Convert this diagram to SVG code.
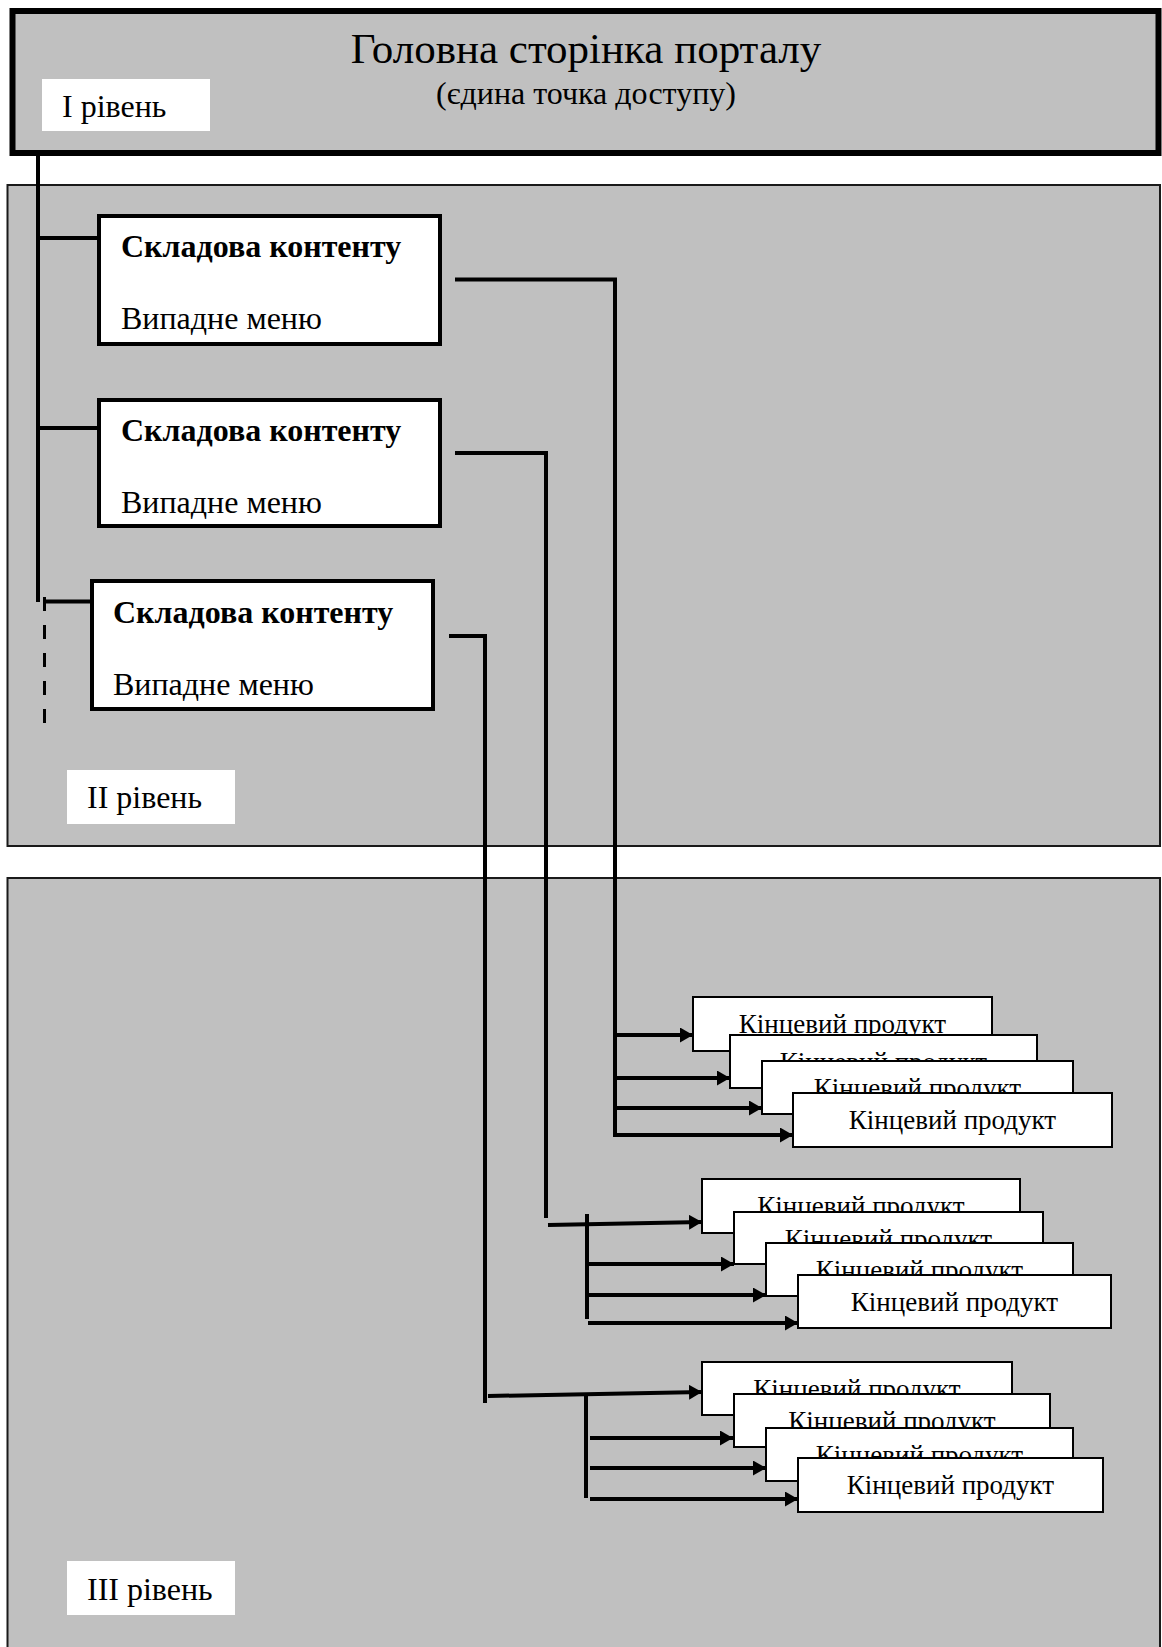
<svg xmlns="http://www.w3.org/2000/svg" width="1162" height="1647" viewBox="0 0 1162 1647">
<defs>
<style>
.t{font-family:"Liberation Serif","Times New Roman",serif;fill:#000}
.panel{fill:#c0c0c0;stroke:#1a1a1a;stroke-width:2}
.lbl{fill:#fff;stroke:none}
.cbox{fill:#fff;stroke:#000;stroke-width:4}
.pbox{fill:#fff;stroke:#000;stroke-width:2}
.ln{fill:none;stroke:#000;stroke-width:4}
.ar{fill:none;stroke:#000;stroke-width:4;marker-end:url(#ah)}
.lvl{font-size:32px}
.bold{font-size:32px;font-weight:bold}
.menu{font-size:32px}
.prod{font-size:27px;text-anchor:middle}
</style>
<marker id="ah" markerUnits="userSpaceOnUse" markerWidth="13" markerHeight="15" refX="13" refY="7.5" orient="auto">
<path d="M0,0 L13,7.5 L0,15 z" fill="#000"/>
</marker>
</defs>
<rect width="1162" height="1647" fill="#fff"/>

<g id="panel-level2"><rect class="panel" x="7.5" y="185" width="1152.5" height="661"/></g>
<g id="panel-level3"><rect class="panel" x="7.5" y="878" width="1152.5" height="790"/></g>

<g id="top">
<rect x="12.5" y="11" width="1146" height="142" fill="#c0c0c0" stroke="#000" stroke-width="6"/>
<text class="t" x="586" y="63" font-size="43" text-anchor="middle">Головна сторінка порталу</text>
<text class="t" x="586" y="104" font-size="32" text-anchor="middle">(єдина точка доступу)</text>
</g>

<g id="label-level1"><rect class="lbl" x="42" y="79" width="168" height="52"/><text class="t lvl" x="62" y="117">I рівень</text></g>
<g id="label-level2"><rect class="lbl" x="67" y="770" width="168" height="54"/><text class="t lvl" x="87" y="808">II рівень</text></g>
<g id="label-level3"><rect class="lbl" x="67" y="1561" width="168" height="54"/><text class="t lvl" x="87" y="1600">III рівень</text></g>

<g id="connectors">
<path class="ln" d="M38,155 V602"/>
<path class="ln" d="M38,238 H97"/>
<path class="ln" d="M38,428 H97"/>
<path class="ln" stroke-width="3" d="M43,601.5 H90"/>
<path fill="none" stroke="#000" stroke-width="3" stroke-dasharray="14 14" d="M44.5,597 V724"/>
<path class="ln" d="M455,279.5 H615 V1135"/>
<path class="ln" d="M455,453 H546 V1218"/>
<path class="ln" d="M449,636 H485 V1403"/>
<path class="ar" d="M615,1035 H693"/>
<path class="ar" d="M615,1078 H730"/>
<path class="ar" d="M615,1108 H762"/>
<path class="ar" d="M613,1135 H793"/>
<path class="ar" d="M548,1225 L702,1222"/>
<path class="ln" d="M587,1214 V1319"/>
<path class="ar" d="M587,1264 H734"/>
<path class="ar" d="M587,1295 H766"/>
<path class="ar" d="M588,1323 H798"/>
<path class="ar" d="M488,1396 L702,1392"/>
<path class="ln" d="M586,1395 V1498"/>
<path class="ar" d="M590,1438 H733"/>
<path class="ar" d="M590,1468 H766"/>
<path class="ar" d="M590,1499 H798"/>
</g>

<g id="content-1"><rect class="cbox" x="99" y="216" width="341" height="128"/><text class="t bold" x="121" y="257">Складова контенту</text><text class="t menu" x="121" y="329">Випадне меню</text></g>
<g id="content-2"><rect class="cbox" x="99" y="400" width="341" height="126"/><text class="t bold" x="121" y="441">Складова контенту</text><text class="t menu" x="121" y="513">Випадне меню</text></g>
<g id="content-3"><rect class="cbox" x="92" y="581" width="341" height="128"/><text class="t bold" x="113" y="623">Складова контенту</text><text class="t menu" x="113" y="695">Випадне меню</text></g>

<g id="product-1-1"><rect class="pbox" x="693" y="997" width="299" height="54"/><text class="t prod" x="842.5" y="1033">Кінцевий продукт</text></g>
<g id="product-1-2"><rect class="pbox" x="730" y="1035" width="307" height="53"/><text class="t prod" x="883.5" y="1071">Кінцевий продукт</text></g>
<g id="product-1-3"><rect class="pbox" x="762" y="1061" width="311" height="53"/><text class="t prod" x="917.5" y="1097">Кінцевий продукт</text></g>
<g id="product-1-4"><rect class="pbox" x="793" y="1093" width="319" height="54"/><text class="t prod" x="952.5" y="1129">Кінцевий продукт</text></g>

<g id="product-2-1"><rect class="pbox" x="702" y="1179" width="318" height="54"/><text class="t prod" x="861" y="1215">Кінцевий продукт</text></g>
<g id="product-2-2"><rect class="pbox" x="734" y="1212" width="309" height="52"/><text class="t prod" x="888.5" y="1248">Кінцевий продукт</text></g>
<g id="product-2-3"><rect class="pbox" x="766" y="1243" width="307" height="53"/><text class="t prod" x="919.5" y="1279">Кінцевий продукт</text></g>
<g id="product-2-4"><rect class="pbox" x="798" y="1275" width="313" height="53"/><text class="t prod" x="954.5" y="1311">Кінцевий продукт</text></g>

<g id="product-3-1"><rect class="pbox" x="702" y="1362" width="310" height="53"/><text class="t prod" x="857" y="1398">Кінцевий продукт</text></g>
<g id="product-3-2"><rect class="pbox" x="734" y="1394" width="316" height="53"/><text class="t prod" x="892" y="1430">Кінцевий продукт</text></g>
<g id="product-3-3"><rect class="pbox" x="766" y="1428" width="307" height="53"/><text class="t prod" x="919.5" y="1464">Кінцевий продукт</text></g>
<g id="product-3-4"><rect class="pbox" x="798" y="1458" width="305" height="54"/><text class="t prod" x="950.5" y="1494">Кінцевий продукт</text></g>
</svg>
